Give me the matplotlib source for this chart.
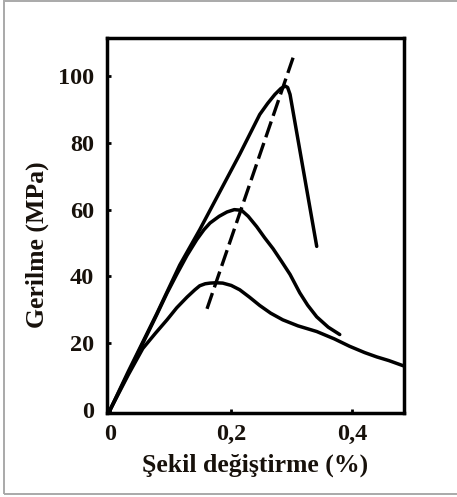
import numpy as np
import matplotlib
matplotlib.use("Agg")
import matplotlib.pyplot as plt
from matplotlib.patches import Rectangle

# ---------------- DATA ----------------
# strain (%) / stress (MPa)
c1_x = [0, 0.03, 0.077, 0.115, 0.148, 0.214, 0.247, 0.260, 0.272, 0.282, 0.289, 0.293, 0.297, 0.341]
c1_y = [0, 11.5, 28.8, 43.4, 54, 76.6, 88.5, 91.8, 94.5, 96.3, 97, 96.6, 94.5, 49]

c2_x = [0, 0.03, 0.077, 0.094, 0.11, 0.127, 0.143, 0.155, 0.165, 0.18, 0.193, 0.205, 0.217,
        0.228, 0.242, 0.255, 0.269, 0.283, 0.297, 0.313, 0.326, 0.341, 0.36, 0.379]
c2_y = [0, 11, 28.5, 35, 40.6, 46.3, 51, 54, 56, 58, 59.3, 60, 59.8,
        58, 54.9, 51.6, 48.3, 44.5, 40.6, 35.1, 31.4, 27.9, 24.8, 22.6]

c3_x = [0, 0.03, 0.054, 0.075, 0.094, 0.11, 0.127, 0.14, 0.148, 0.157, 0.165, 0.175, 0.186,
        0.2, 0.214, 0.23, 0.247, 0.265, 0.285, 0.31, 0.341, 0.37, 0.395, 0.42, 0.44, 0.46, 0.486]
c3_y = [0, 10.5, 18.4, 23, 27, 30.6, 33.8, 36, 37.2, 37.8, 38, 38.1, 38,
        37.3, 36, 33.8, 31.3, 29, 27, 25.2, 23.5, 21.3, 19.1, 17.2, 15.9, 14.8, 13.1]

# dashed line through the peaks
peak_x = [0.16, 0.302]
peak_y = [30.3, 105.5]

xticks = [0, 0.2, 0.4]
xtick_labels = ["0", "0,2", "0,4"]
yticks = [0, 20, 40, 60, 80, 100]
ytick_labels = ["0", "20", "40", "60", "80", "100"]

TEXT_COLOR = "#17110b"
FONT = "Liberation Serif"

# ---------------- PLOT ----------------
fig = plt.figure(figsize=(4.57, 4.97), dpi=100)
fig.patch.set_facecolor("white")

# thin grey frame round the picture
fig.patches.append(Rectangle((4 / 457, 3 / 497), 1.1, 493 / 497, transform=fig.transFigure,
                             fill=False, edgecolor="#a9a9a9", linewidth=1.4))

ax = fig.add_axes([107 / 457, 1 - 413 / 497, 297 / 457, 375 / 497])

line_kw = dict(color="black", linewidth=2.5, solid_joinstyle="round", solid_capstyle="round")
ax.plot(c1_x, c1_y, **line_kw)
ax.plot(c2_x, c2_y, **line_kw)
ax.plot(c3_x, c3_y, **line_kw)
ax.plot(peak_x, peak_y, color="black", linewidth=2.4, dashes=(5, 1.8), dash_capstyle="butt")

ax.set_xlim(-0.005, 0.485)
ax.set_ylim(-0.9, 111.4)

ax.set_xticks(xticks)
ax.set_xticklabels(xtick_labels)
ax.set_yticks(yticks)
ax.set_yticklabels(ytick_labels)
ax.tick_params(direction="in", length=3, width=2, colors="black", labelcolor=TEXT_COLOR)
ax.tick_params(axis="y", pad=9.4)
ax.tick_params(axis="x", pad=8.0)
for lab in ax.get_xticklabels() + ax.get_yticklabels():
    lab.set_fontfamily(FONT)
    lab.set_fontweight("bold")
    lab.set_fontsize(17.5)

for sp in ax.spines.values():
    sp.set_linewidth(2.5)
    sp.set_color("black")

fig.text(255 / 457, 1 - 465 / 497, "Şekil değiştirme (%)", ha="center", va="center",
         fontfamily=FONT, fontweight="bold", fontsize=18.5, color=TEXT_COLOR)
fig.text(37 / 457, 1 - 245 / 497, "Gerilme (MPa)", ha="center", va="center", rotation=90,
         fontfamily=FONT, fontweight="bold", fontsize=18.5, color=TEXT_COLOR)

fig.savefig("out.png", dpi=100, facecolor="white")
